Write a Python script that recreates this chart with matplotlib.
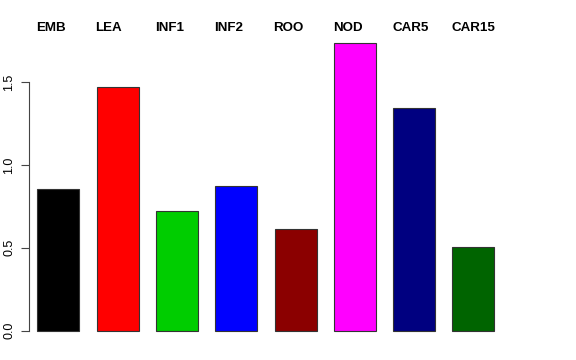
import matplotlib
matplotlib.use("Agg")
import matplotlib.pyplot as plt

tissues = ["EMB", "LEA", "INF1", "INF2", "ROO", "NOD", "CAR5", "CAR15"]
values = [0.855, 1.47, 0.723, 0.87, 0.61, 1.735, 1.343, 0.503]
colors = ["#000000", "#FF0000", "#00CD00", "#0000FF", "#8B0000",
          "#FF00FF", "#000080", "#006400"]
yticks = [0.0, 0.5, 1.0, 1.5]

plt.rcParams['font.family'] = ['Liberation Sans', 'DejaVu Sans']

fig = plt.figure(figsize=(5.76, 3.6), dpi=100)
ax = fig.add_axes([29/576, 20/360, 518/576, 320/360])

x = list(range(len(tissues)))
bw = 0.708
ax.bar(x, values, width=bw, color=colors, edgecolor="#333333", linewidth=0.8)

for i, name in enumerate(tissues):
    ax.text(i - bw/2 - 0.02, 1.826, name, ha="left", va="center",
            fontsize=9.6, fontweight="bold")

ax.set_xlim(-0.497, 8.24)
ax.set_ylim(-0.057, 1.874)
ax.set_yticks(yticks)
ax.set_yticklabels(["%.1f" % v for v in yticks], rotation=90, va="center",
                   fontsize=9)
ax.tick_params(axis="y", length=6, color="#444444", pad=4)
ax.set_xticks([])
for s in ["top", "right", "bottom"]:
    ax.spines[s].set_visible(False)
ax.spines["left"].set_bounds(0, 1.5)
ax.spines["left"].set_color("#444444")

fig.savefig("out.png", dpi=100)
